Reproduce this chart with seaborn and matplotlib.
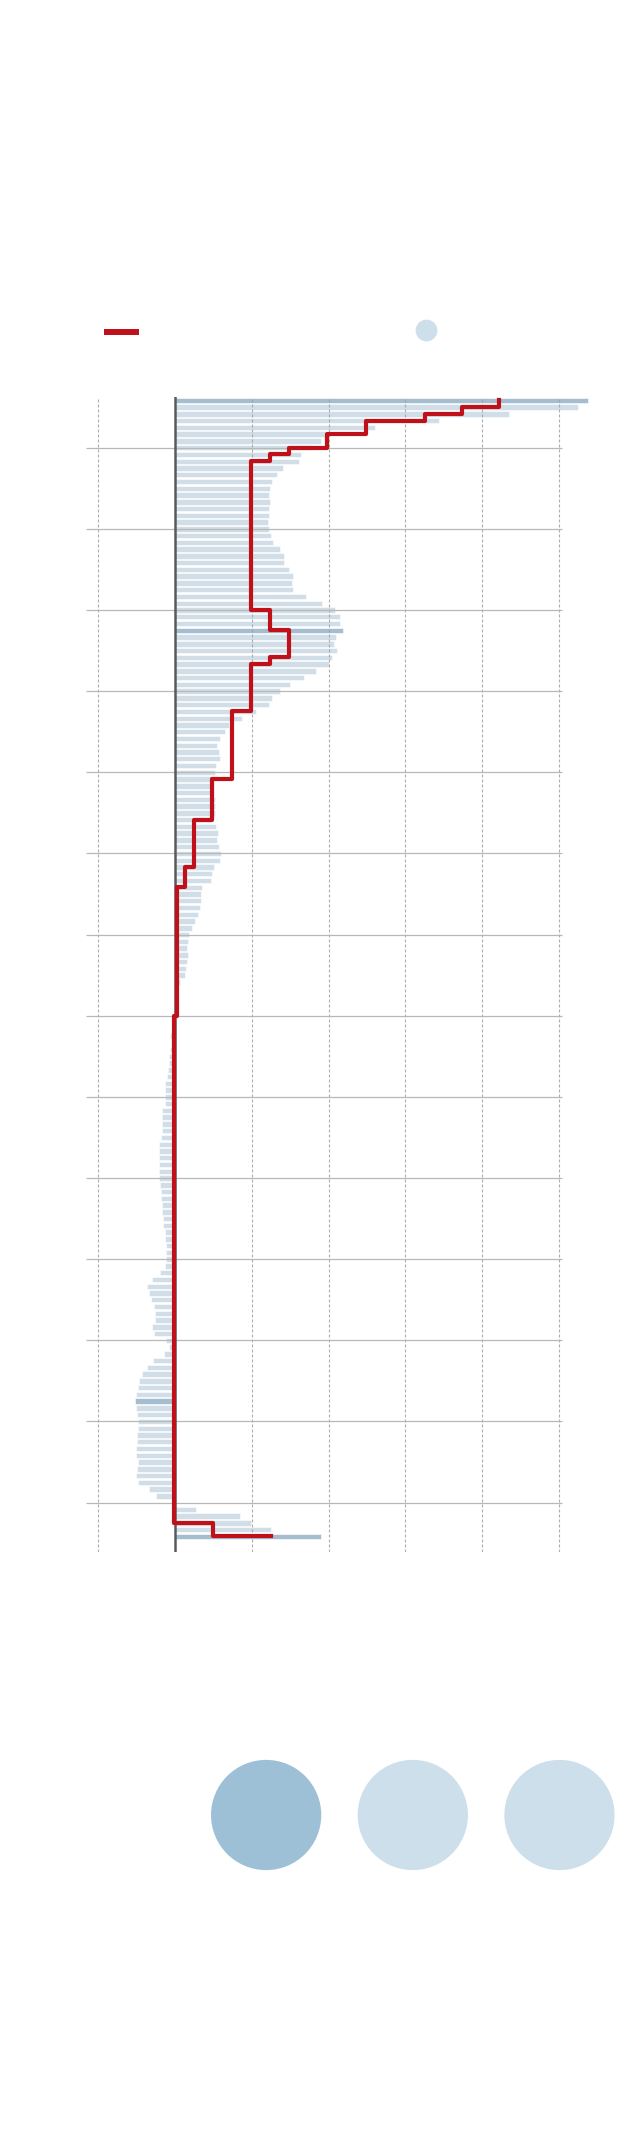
import numpy as np
import pandas as pd
import seaborn as sns
import matplotlib.pyplot as plt

# bar values per row (top to bottom)
bar_values = [
    5.38, 5.25, 4.35, 3.44, 2.61, 1.95, 1.90, 1.77, 1.64, 1.61,
    1.41, 1.33, 1.26, 1.24, 1.23, 1.24, 1.23, 1.22, 1.21, 1.23,
    1.25, 1.28, 1.37, 1.42, 1.42, 1.49, 1.54, 1.53, 1.54, 1.71,
    1.92, 2.09, 2.15, 2.15, 2.19, 2.10, 2.07, 2.11, 2.04, 2.00,
    1.84, 1.68, 1.50, 1.37, 1.27, 1.22, 1.06, 0.88, 0.70, 0.65,
    0.59, 0.55, 0.58, 0.59, 0.54, 0.53, 0.50, 0.51, 0.51, 0.53,
    0.53, 0.53, 0.48, 0.54, 0.56, 0.55, 0.58, 0.60, 0.59, 0.51,
    0.49, 0.47, 0.36, 0.34, 0.34, 0.33, 0.30, 0.26, 0.22, 0.18,
    0.17, 0.16, 0.17, 0.16, 0.15, 0.13, 0.07, 0.01, 0.0, 0.0,
    -0.01, 0.0, -0.01, -0.02, -0.06, -0.05, -0.06, -0.07, -0.08, -0.09,
    -0.10, -0.12, -0.12, -0.12, -0.13, -0.16, -0.16, -0.16, -0.17, -0.18,
    -0.20, -0.20, -0.20, -0.20, -0.20, -0.20, -0.19, -0.18, -0.18, -0.17,
    -0.16, -0.15, -0.15, -0.13, -0.12, -0.11, -0.11, -0.11, -0.13, -0.19,
    -0.29, -0.36, -0.34, -0.31, -0.27, -0.26, -0.25, -0.29, -0.27, -0.11,
    -0.08, -0.14, -0.28, -0.36, -0.42, -0.47, -0.48, -0.50, -0.51, -0.50,
    -0.49, -0.48, -0.48, -0.49, -0.49, -0.50, -0.50, -0.48, -0.49, -0.50,
    -0.48, -0.33, -0.24, 0.0, 0.28, 0.85, 0.99, 1.25, 1.90,
]
rows = list(range(len(bar_values)))
highlight_rows = [0, 34, 148, 168]

# red step line: level held from each row to the next
step_levels = ([4.22, 3.74, 3.25, 2.49, 2.49, 1.98, 1.98, 1.48, 1.24]
               + [0.99] * 22 + [1.24] * 3 + [1.49] * 4 + [1.24]
               + [0.99] * 7 + [0.74] * 10 + [0.49] * 6 + [0.245] * 7
               + [0.14] * 3 + [0.035] * 19 + [-0.005] * 75
               + [0.50, 0.50, 1.25])

grid_rows = list(range(7, 169, 12))
dash_x = [-1, 1, 2, 3, 4, 5]

light_blue = '#cddfeb'
dark_blue = '#9dc0d6'
red = '#c0111b'

df = pd.DataFrame({'row': rows, 'value': bar_values})
df['kind'] = np.where(df['row'].isin(highlight_rows), 'hi', 'lo')

fig = plt.figure(figsize=(6.4, 21.4), dpi=100)
W, H = 640, 2140

# main chart axes, full width so bars may run past the gridlines
top_px, bot_px = 397, 1552
ax = fig.add_axes([0, 1 - bot_px / H, 1, (bot_px - top_px) / H])
sns.barplot(data=df, x='value', y='row', hue='kind', orient='h',
            palette={'hi': dark_blue, 'lo': light_blue}, dodge=False,
            legend=False, width=0.8, edgecolor='white', linewidth=0.4,
            ax=ax, zorder=2)

zero_px, unit_px = 174.7, 76.9
ax.set_xlim(-zero_px / unit_px, (W - zero_px) / unit_px)
ax.set_ylim(170.3, -0.5)

for x in dash_x:
    ax.axvline(x, color='#a0a0a0', lw=0.8, ls=(0, (2.7, 1.8)), alpha=0.85, zorder=3)
ax.hlines(grid_rows, (86 - zero_px) / unit_px, (562 - zero_px) / unit_px,
          color='#b8b8b8', lw=0.9, zorder=3)
ax.axvline(0, color='#5a5a5a', lw=1.8, zorder=4)

sns.lineplot(x=step_levels, y=rows, orient='y', sort=False, estimator=None,
             drawstyle='steps-pre', color=red, linewidth=3.0, ax=ax, zorder=5)

ax.axis('off')

# legend row at the top
leg = fig.add_axes([0, 1 - 360 / H, 1, 60 / H])
leg.set_xlim(0, W)
leg.set_ylim(360, 300)
leg_line_x = [104, 139]
leg_dot_x = [425.6]
leg.plot(leg_line_x, [331.7, 331.7], color=red, lw=4.3, solid_capstyle='butt')
sns.scatterplot(x=leg_dot_x, y=[330], color=light_blue, s=245, linewidth=0, ax=leg)
leg.axis('off')

# three circles at the bottom
circle_x = [0, 1, 2]
circle_kind = ['hi', 'lo', 'lo']
bot = fig.add_axes([192.8 / W, 1 - 1880 / H, 440 / W, 130 / H])
sns.scatterplot(x=circle_x, y=[0, 0, 0], hue=circle_kind,
                palette={'hi': dark_blue, 'lo': light_blue}, s=6300,
                linewidth=0, legend=False, ax=bot)
bot.set_xlim(-0.5, 2.5)
bot.set_ylim(-1, 1)
bot.axis('off')

fig.savefig('out.png', dpi=100, facecolor='white')
